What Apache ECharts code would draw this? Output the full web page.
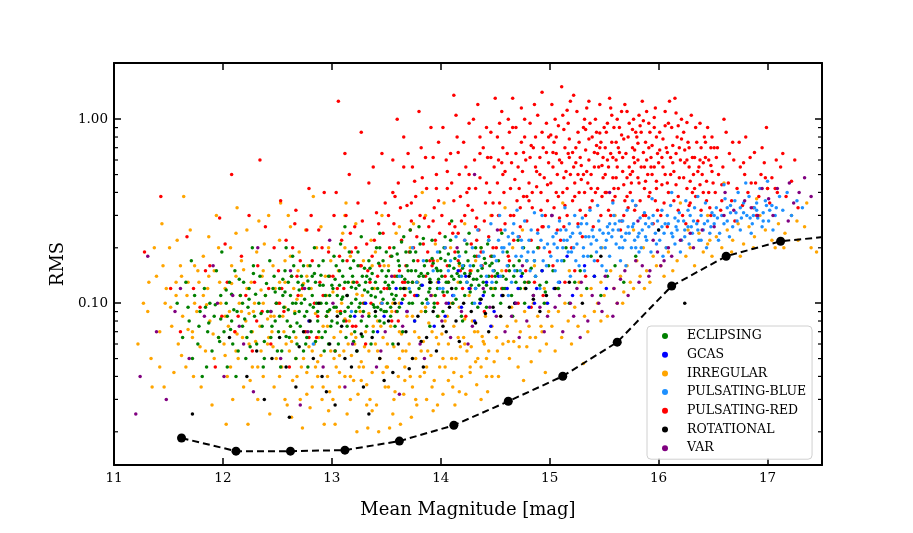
<!DOCTYPE html>
<html lang="en">
<head>
    <meta charset="UTF-8">
    <title>RMS vs Mean Magnitude</title>
    <script src="https://cdn.jsdelivr.net/npm/echarts@6/dist/echarts.min.js"></script>
</head>
<style>
    html, body {
        height: 100%;
        margin: 0;
        background: #fff;
    }
</style>
<body>
<div id="main" style="width: 913px;height:533px"></div>
<script type="text/javascript">
    // class names as in the legend
    var classNames = ['ECLIPSING', 'GCAS', 'IRREGULAR', 'PULSATING-BLUE', 'PULSATING-RED', 'ROTATIONAL', 'VAR'];
    var classColors = ['#008000', '#0000ff', '#ffa500', '#1e90ff', '#ff0000', '#000000', '#800080'];

    // [mean magnitude, rms]
    var eclipsing = [
        [11.58,0.1],[11.63,0.065],[11.66,0.13],[11.69,0.08],[11.72,0.05],[11.74,0.11],[11.77,0.06],[11.79,0.09],[11.81,0.04],[11.83,0.12],
        [11.86,0.07],[11.88,0.1],[11.9,0.055],[11.92,0.085],[11.94,0.15],[11.96,0.065],[11.98,0.11],[11.71,0.17],[11.85,0.045],[11.99,0.19],
        [12.01,0.07],[12.03,0.1],[12.04,0.045],[12.06,0.13],[12.08,0.08],[12.09,0.06],[12.11,0.15],[12.13,0.09],[12.14,0.055],[12.16,0.11],
        [12.18,0.075],[12.19,0.13],[12.21,0.05],[12.23,0.095],[12.24,0.12],[12.26,0.07],[12.28,0.16],[12.29,0.085],[12.31,0.06],[12.33,0.1],
        [12.34,0.14],[12.36,0.075],[12.38,0.05],[12.39,0.11],[12.41,0.09],[12.43,0.17],[12.44,0.065],[12.46,0.12],[12.48,0.08],[12.49,0.1],
        [12.12,0.04],[12.27,0.2],[12.37,0.045],[12.22,0.065],[12.47,0.14],
        [12.51,0.07],[12.52,0.12],[12.54,0.055],[12.56,0.095],[12.57,0.15],[12.59,0.08],[12.61,0.065],[12.62,0.11],[12.64,0.18],[12.66,0.088],
        [12.67,0.05],[12.69,0.13],[12.71,0.075],[12.72,0.1],[12.74,0.16],[12.76,0.06],[12.77,0.09],[12.79,0.12],[12.81,0.07],[12.82,0.14],
        [12.84,0.2],[12.86,0.1],[12.87,0.08],[12.89,0.125],[12.91,0.065],[12.92,0.17],[12.94,0.11],[12.96,0.09],[12.97,0.14],[12.99,0.075],
        [12.53,0.045],[12.58,0.2],[12.63,0.14],[12.68,0.06],[12.73,0.125],[12.78,0.045],[12.83,0.095],[12.88,0.16],[12.93,0.055],[12.98,0.11],
        [12.55,0.11],[12.65,0.07],[12.75,0.105],[12.85,0.13],[12.95,0.085],
        [13.01,0.12],[13.02,0.18],[13.04,0.095],[13.06,0.06],[13.07,0.15],[13.09,0.105],[13.11,0.08],[13.12,0.13],[13.14,0.11],[13.16,0.19],
        [13.17,0.085],[13.19,0.14],[13.21,0.07],[13.22,0.12],[13.24,0.16],[13.26,0.1],[13.27,0.23],[13.29,0.09],[13.31,0.13],[13.32,0.075],
        [13.34,0.17],[13.36,0.11],[13.37,0.145],[13.39,0.095],[13.41,0.2],[13.42,0.12],[13.44,0.08],[13.46,0.15],[13.47,0.105],[13.49,0.13],
        [13.03,0.055],[13.08,0.21],[13.13,0.065],[13.18,0.1],[13.23,0.055],[13.28,0.14],[13.33,0.115],[13.38,0.07],[13.43,0.165],[13.48,0.09],
        [13.05,0.11],[13.1,0.14],[13.15,0.095],[13.2,0.17],[13.25,0.125],[13.3,0.1],[13.35,0.135],[13.4,0.085],[13.45,0.115],[13.5,0.19],
        [13.12,0.26],[13.36,0.06],[13.22,0.09],[13.44,0.24],[13.03,0.135],
        [13.51,0.1],[13.52,0.15],[13.54,0.085],[13.56,0.13],[13.57,0.2],[13.59,0.11],[13.61,0.17],[13.62,0.095],[13.64,0.14],[13.66,0.23],
        [13.67,0.12],[13.69,0.16],[13.71,0.1],[13.72,0.19],[13.74,0.13],[13.76,0.08],[13.77,0.15],[13.79,0.11],[13.81,0.21],[13.82,0.125],
        [13.84,0.14],[13.86,0.09],[13.87,0.17],[13.89,0.115],[13.91,0.13],[13.92,0.22],[13.94,0.1],[13.96,0.155],[13.97,0.12],[13.99,0.19],
        [13.53,0.12],[13.58,0.075],[13.63,0.12],[13.68,0.19],[13.73,0.15],[13.78,0.13],[13.83,0.1],[13.88,0.145],[13.93,0.165],[13.98,0.135],
        [13.55,0.18],[13.6,0.14],[13.65,0.105],[13.7,0.13],[13.75,0.17],[13.8,0.12],[13.85,0.16],[13.9,0.135],[13.95,0.11],[14.0,0.15],
        [13.65,0.07],[13.9,0.075],[13.8,0.26],[13.72,0.25],[13.97,0.085],
        [14.01,0.14],[14.02,0.09],[14.04,0.17],[14.06,0.115],[14.07,0.13],[14.09,0.22],[14.11,0.1],[14.12,0.155],[14.14,0.12],[14.16,0.19],
        [14.17,0.14],[14.19,0.085],[14.21,0.16],[14.22,0.11],[14.24,0.13],[14.26,0.24],[14.27,0.145],[14.29,0.1],[14.31,0.18],[14.32,0.12],
        [14.34,0.15],[14.36,0.105],[14.37,0.2],[14.39,0.13],[14.41,0.165],[14.42,0.095],[14.44,0.14],[14.46,0.12],[14.47,0.18],[14.49,0.15],
        [14.03,0.2],[14.08,0.16],[14.13,0.175],[14.18,0.13],[14.23,0.19],[14.28,0.125],[14.33,0.135],[14.38,0.155],[14.43,0.21],[14.48,0.11],
        [14.05,0.13],[14.15,0.145],[14.25,0.17],[14.35,0.125],[14.45,0.16],[14.1,0.28],[14.2,0.08],[14.3,0.16],[14.4,0.115],[14.5,0.14],
        [14.51,0.13],[14.53,0.17],[14.55,0.1],[14.57,0.14],[14.59,0.12],[14.61,0.19],[14.63,0.15],[14.65,0.11],[14.67,0.16],[14.69,0.13],
        [14.71,0.22],[14.73,0.12],[14.75,0.145],[14.77,0.1],[14.79,0.17],[14.81,0.13],[14.83,0.155],[14.85,0.11],[14.87,0.14],[14.89,0.2],
        [14.91,0.125],[14.93,0.15],[14.95,0.1],[14.97,0.13],[14.99,0.16],[14.56,0.24],[14.66,0.085],[14.76,0.2],[14.86,0.17],[14.96,0.115],
        [15.03,0.15],[15.08,0.12],[15.13,0.17],[15.18,0.1],[15.23,0.13],[15.28,0.15],[15.34,0.12],[15.41,0.14],[15.47,0.11],[15.53,0.14],
        [15.6,0.16],[15.68,0.13],[15.79,0.18],[15.15,0.2],[15.38,0.18],
        [12.52,0.085],[12.57,0.115],[12.62,0.075],[12.67,0.1],[12.72,0.14],[12.77,0.065],[12.82,0.11],[12.87,0.09],[12.92,0.125],[12.97,0.06],
        [13.02,0.095],[13.07,0.125],[13.12,0.09],[13.17,0.155],[13.22,0.105],[13.27,0.08],[13.32,0.14],[13.37,0.12],[13.42,0.095],[13.47,0.17],
        [13.52,0.125],[13.57,0.105],[13.62,0.16],[13.67,0.135],[13.72,0.115],[13.77,0.19],[13.82,0.145],[13.87,0.105],[13.92,0.175],[13.97,0.15],
        [14.02,0.115],[14.07,0.185],[14.12,0.135],[14.17,0.165],[14.22,0.145],[14.27,0.115],[14.32,0.2],[14.37,0.14],[14.42,0.125],[14.47,0.165],
        [14.52,0.145],[14.57,0.12],[14.62,0.16],[14.67,0.14],[14.72,0.17],[14.77,0.13],[12.6,0.13],[12.7,0.09],[12.8,0.16],[12.9,0.1],
        [13.0,0.08],[13.1,0.17],[13.2,0.13],[13.3,0.155],[13.4,0.13],[13.5,0.09],[13.6,0.185],[13.7,0.15],[13.8,0.14],[13.9,0.12],
        [14.0,0.175],[14.1,0.14],[14.2,0.155],[14.3,0.135],[14.4,0.175],[14.5,0.12],[14.6,0.135],[14.7,0.15],[13.44,0.2],[13.64,0.215],
        [13.84,0.225],[14.04,0.23],[14.24,0.21],[14.44,0.22],[13.24,0.19],[13.04,0.16],[12.84,0.145],[12.64,0.1],[12.44,0.09],[12.24,0.105],
        [12.04,0.085],[11.84,0.095],[13.34,0.085],[13.54,0.095],[13.74,0.1],[13.94,0.095],[14.14,0.105],[14.34,0.095],[12.94,0.07],[13.14,0.075],
        [12.74,0.055],[13.56,0.06],
        [11.87,0.078],[11.93,0.098],[11.97,0.062],[12.03,0.118],[12.07,0.072],[12.1,0.092],[12.15,0.135],[12.2,0.082],[12.25,0.058],[12.3,0.112],
        [12.35,0.088],[12.4,0.128],[12.45,0.075],[12.5,0.055],[12.55,0.135],[12.6,0.092],[12.65,0.16],[12.7,0.118],[12.75,0.085],[12.8,0.098],
        [12.85,0.062],[12.9,0.142],[12.95,0.1],[13.0,0.125],[13.05,0.078],[13.1,0.108],[13.15,0.13],[13.2,0.062],[13.25,0.095],[13.3,0.118],
        [13.35,0.155],[13.4,0.108],[13.45,0.092],[13.5,0.14],[13.55,0.112],[13.6,0.09],[12.58,0.066],[12.68,0.078],[12.78,0.132],[12.88,0.07],
        [12.98,0.092],[13.08,0.088],[13.18,0.122],[13.28,0.066],[13.38,0.098],[13.48,0.078],[12.48,0.115],[12.38,0.062],[12.28,0.145],[12.18,0.1],
        [12.08,0.112],[11.98,0.082],[11.78,0.075],[11.68,0.095]
    ];
    var gcas = [
        [13.31,0.1],[13.48,0.085],[13.59,0.12],[13.69,0.09],[13.78,0.11],[13.88,0.1],[13.98,0.13],[14.04,0.085],[14.11,0.11],[14.19,0.095],
        [14.26,0.12],[14.31,0.08],[14.36,0.1],[14.42,0.13],[14.49,0.09],[14.56,0.11],[14.61,0.12],[14.68,0.1],[14.74,0.14],[14.81,0.095],
        [14.88,0.12],[14.98,0.1],[15.09,0.13],[15.21,0.11],[13.42,0.07],[13.94,0.075],[12.79,0.08],[14.16,0.15],[15.32,0.16],[15.52,0.12],
        [13.64,0.1],[13.83,0.125],[14.07,0.1],[14.23,0.14],[14.39,0.11],[14.53,0.14],[14.71,0.12],[14.93,0.15],[15.04,0.12],[15.16,0.18],
        [13.21,0.085],[13.76,0.08],[14.46,0.075],[14.86,0.1],[15.41,0.14]
    ];
    var irregular = [
        [11.22,0.06],[11.27,0.1],[11.31,0.09],[11.34,0.05],[11.37,0.2],[11.39,0.14],[11.42,0.07],[11.44,0.27],[11.46,0.035],[11.48,0.12],
        [11.51,0.2],[11.53,0.075],[11.55,0.042],[11.57,0.11],[11.59,0.06],[11.61,0.16],[11.63,0.085],[11.64,0.38],[11.66,0.045],[11.68,0.13],
        [11.7,0.25],[11.72,0.07],[11.74,0.1],[11.76,0.09],[11.78,0.13],[11.8,0.035],[11.82,0.18],[11.84,0.055],[11.86,0.12],[11.88,0.08],
        [11.9,0.028],[11.92,0.15],[11.94,0.3],[11.96,0.065],[11.98,0.1],[11.45,0.16],[11.58,0.22],[11.73,0.04],[11.87,0.23],[11.35,0.035],
        [12.01,0.06],[12.02,0.12],[12.04,0.04],[12.06,0.09],[12.07,0.2],[12.09,0.03],[12.11,0.07],[12.12,0.14],[12.14,0.05],[12.16,0.11],
        [12.17,0.17],[12.19,0.035],[12.21,0.08],[12.22,0.25],[12.24,0.06],[12.26,0.13],[12.27,0.045],[12.29,0.1],[12.31,0.19],[12.32,0.03],
        [12.34,0.075],[12.36,0.14],[12.37,0.04],[12.39,0.11],[12.41,0.06],[12.42,0.3],[12.44,0.085],[12.46,0.16],[12.47,0.035],[12.49,0.05],
        [12.03,0.022],[12.13,0.33],[12.23,0.022],[12.33,0.28],[12.43,0.025],[12.08,0.16],[12.18,0.065],[12.28,0.09],[12.38,0.21],[12.48,0.12],
        [12.05,0.075],[12.15,0.1],[12.25,0.038],[12.35,0.055],[12.45,0.07],
        [12.51,0.1],[12.52,0.22],[12.54,0.045],[12.56,0.07],[12.57,0.13],[12.59,0.028],[12.61,0.055],[12.62,0.18],[12.64,0.038],[12.66,0.09],
        [12.67,0.065],[12.69,0.15],[12.71,0.03],[12.72,0.11],[12.74,0.05],[12.76,0.25],[12.77,0.042],[12.79,0.08],[12.81,0.12],[12.82,0.035],
        [12.84,0.06],[12.86,0.2],[12.87,0.048],[12.89,0.1],[12.91,0.03],[12.92,0.075],[12.94,0.14],[12.96,0.04],[12.97,0.09],[12.99,0.055],
        [12.53,0.35],[12.63,0.024],[12.73,0.021],[12.83,0.38],[12.93,0.022],[12.58,0.06],[12.68,0.04],[12.78,0.16],[12.88,0.065],[12.98,0.033],
        [12.55,0.085],[12.65,0.12],[12.75,0.07],[12.85,0.045],[12.95,0.11],[12.6,0.3],[12.7,0.19],[12.8,0.027],[12.9,0.26],[12.99,0.17],
        [13.01,0.03],[13.02,0.065],[13.04,0.045],[13.06,0.15],[13.07,0.035],[13.09,0.1],[13.11,0.055],[13.12,0.2],[13.14,0.025],[13.16,0.08],
        [13.17,0.04],[13.19,0.13],[13.21,0.06],[13.22,0.27],[13.24,0.032],[13.26,0.09],[13.27,0.048],[13.29,0.17],[13.31,0.07],[13.32,0.036],
        [13.34,0.055],[13.36,0.22],[13.37,0.042],[13.39,0.12],[13.41,0.028],[13.42,0.08],[13.44,0.05],[13.46,0.3],[13.47,0.065],[13.49,0.035],
        [13.03,0.022],[13.13,0.35],[13.23,0.02],[13.33,0.021],[13.43,0.02],[13.08,0.07],[13.18,0.052],[13.28,0.11],[13.38,0.075],[13.48,0.16],
        [13.05,0.09],[13.15,0.06],[13.25,0.045],[13.35,0.03],[13.45,0.1],[13.1,0.24],[13.2,0.038],[13.3,0.058],[13.4,0.19],[13.5,0.045],
        [13.51,0.045],[13.52,0.16],[13.54,0.075],[13.56,0.025],[13.57,0.058],[13.59,0.24],[13.61,0.04],[13.62,0.1],[13.64,0.068],[13.66,0.032],
        [13.67,0.045],[13.69,0.085],[13.71,0.06],[13.72,0.2],[13.74,0.035],[13.76,0.07],[13.77,0.05],[13.79,0.13],[13.81,0.04],[13.82,0.09],
        [13.84,0.062],[13.86,0.3],[13.87,0.03],[13.89,0.078],[13.91,0.052],[13.92,0.11],[13.94,0.038],[13.96,0.065],[13.97,0.17],[13.99,0.045],
        [13.53,0.021],[13.63,0.022],[13.73,0.024],[13.83,0.4],[13.93,0.026],[13.58,0.033],[13.68,0.12],[13.78,0.028],[13.88,0.055],[13.98,0.085],
        [13.55,0.09],[13.65,0.055],[13.75,0.27],[13.85,0.042],[13.95,0.21],
        [14.01,0.068],[14.02,0.032],[14.04,0.045],[14.06,0.085],[14.07,0.06],[14.09,0.2],[14.11,0.035],[14.12,0.075],[14.14,0.05],[14.16,0.13],
        [14.17,0.095],[14.19,0.04],[14.21,0.065],[14.22,0.27],[14.24,0.055],[14.26,0.11],[14.27,0.045],[14.29,0.08],[14.31,0.07],[14.32,0.17],
        [14.34,0.05],[14.36,0.1],[14.37,0.03],[14.39,0.062],[14.41,0.085],[14.42,0.04],[14.44,0.055],[14.46,0.3],[14.47,0.075],[14.49,0.048],
        [14.03,0.35],[14.13,0.028],[14.23,0.032],[14.33,0.036],[14.43,0.033],[14.08,0.1],[14.18,0.058],[14.28,0.15],[14.38,0.066],[14.48,0.12],
        [14.51,0.065],[14.53,0.04],[14.55,0.085],[14.57,0.06],[14.59,0.33],[14.61,0.075],[14.63,0.05],[14.65,0.095],[14.67,0.062],[14.69,0.08],
        [14.71,0.045],[14.73,0.07],[14.75,0.25],[14.77,0.09],[14.79,0.058],[14.81,0.075],[14.83,0.048],[14.85,0.1],[14.87,0.065],[14.89,0.085],
        [14.91,0.055],[14.93,0.07],[14.95,0.12],[14.97,0.06],[14.99,0.09],[14.56,0.15],[14.66,0.2],[14.76,0.038],[14.86,0.16],[14.96,0.042],
        [15.02,0.075],[15.05,0.055],[15.08,0.09],[15.11,0.065],[15.14,0.1],[15.17,0.08],[15.2,0.06],[15.23,0.095],[15.26,0.075],[15.29,0.11],
        [15.32,0.085],[15.35,0.07],[15.38,0.12],[15.41,0.09],[15.44,0.1],[15.47,0.13],[15.5,0.11],[15.53,0.085],[15.56,0.15],[15.59,0.12],
        [15.62,0.1],[15.65,0.14],[15.68,0.115],[15.71,0.16],[15.74,0.13],[15.77,0.12],[15.8,0.17],[15.83,0.14],[15.86,0.2],[15.89,0.15],
        [15.92,0.13],[15.95,0.18],[15.98,0.16],[15.18,0.15],[15.48,0.2],[15.77,0.25],[15.31,0.047],[15.6,0.3],[15.12,0.35],
        [16.02,0.16],[16.05,0.14],[16.09,0.19],[16.13,0.15],[16.17,0.17],[16.21,0.22],[16.25,0.18],[16.29,0.2],[16.33,0.16],[16.37,0.24],
        [16.41,0.19],[16.45,0.21],[16.49,0.18],[16.53,0.23],[16.58,0.2],[16.63,0.25],[16.68,0.22],[16.73,0.27],[16.78,0.21],[16.83,0.26],
        [16.88,0.23],[16.93,0.3],[16.98,0.25],[17.04,0.22],[17.1,0.27],[17.16,0.24],[17.22,0.3],[17.28,0.22],[17.34,0.26],[17.4,0.2],
        [17.45,0.19],[17.36,0.35],[16.6,0.45],[16.2,0.35],[17.0,0.42],[16.75,0.18],[17.15,0.2],[16.45,0.3],[16.9,0.37],
        [11.52,0.095],[11.62,0.14],[11.72,0.065],[11.82,0.11],[11.92,0.05],[12.02,0.085],[12.12,0.055],[12.22,0.12],[12.32,0.045],[12.42,0.065],
        [12.52,0.04],[12.62,0.075],[12.72,0.045],[12.82,0.055],[12.92,0.035],[13.02,0.05],[13.12,0.04],[13.22,0.065],[13.32,0.028],[13.42,0.055],
        [13.52,0.035],[13.62,0.05],[13.72,0.04],[13.82,0.055],[13.92,0.035],[14.02,0.05],[14.12,0.042],[14.22,0.06],[14.32,0.048],[14.42,0.05],
        [14.52,0.055],[14.62,0.062],[14.72,0.058],[14.82,0.065],[14.92,0.075],[12.57,0.03],[12.67,0.05],[12.77,0.032],[12.87,0.04],[12.97,0.026],
        [13.07,0.042],[13.17,0.03],[13.27,0.038],[13.37,0.026],[13.47,0.042],[13.57,0.03],[13.67,0.038],[13.77,0.03],[13.87,0.045],[13.97,0.028],
        [14.07,0.038],[14.17,0.033],[14.27,0.042],[14.37,0.045],[14.47,0.04],[12.07,0.045],[12.17,0.09],[12.27,0.07],[12.37,0.1],[12.47,0.085],
        [11.47,0.1],[11.57,0.13],[11.67,0.11],[11.77,0.15],[11.87,0.14],[11.97,0.13],[12.37,0.15],[12.57,0.17],[12.77,0.14],[12.97,0.2],
        [13.17,0.18],[13.37,0.16],[13.57,0.14],[13.77,0.11],[13.97,0.13],[14.17,0.16],[14.37,0.2],[14.57,0.11],[14.77,0.12],[14.97,0.1],
        [15.07,0.12],[15.27,0.13],[15.47,0.08],[15.67,0.1],[15.87,0.12],[16.07,0.2],[16.27,0.25],[16.47,0.22],[16.67,0.19],[16.87,0.2],
        [17.07,0.2],[17.27,0.28],[11.42,0.045],[11.32,0.13],[12.12,0.24],[12.62,0.26],[13.62,0.26],[13.12,0.3],
        [11.62,0.052],[11.68,0.072],[11.74,0.16],[11.79,0.058],[11.85,0.098],[11.91,0.068],[11.96,0.2],[12.02,0.052],[12.08,0.128],[12.13,0.068],
        [12.19,0.152],[12.24,0.088],[12.3,0.062],[12.35,0.118],[12.41,0.082],[12.46,0.058],[12.52,0.13],[12.57,0.095],[12.63,0.062],[12.68,0.105],
        [12.74,0.128],[12.79,0.058],[12.85,0.088],[12.9,0.052],[12.96,0.075],[13.01,0.115],[13.07,0.052],[13.12,0.082],[13.18,0.068],[13.23,0.112],
        [13.29,0.045],[13.34,0.088],[13.4,0.06],[13.45,0.075],[13.51,0.06],[13.56,0.1],[13.62,0.07],[13.68,0.055],[13.74,0.085],[13.8,0.065],
        [13.86,0.095],[13.92,0.07],[13.98,0.06],[14.04,0.08],[14.1,0.05],[14.16,0.065],[14.22,0.082],[14.28,0.058],[14.34,0.07],[14.4,0.06]
    ];
    var pulsatingBlue = [
        [12.83,0.06],[13.18,0.09],[13.46,0.1],[13.62,0.14],[13.71,0.12],[13.78,0.13],[13.84,0.17],[13.88,0.1],[13.93,0.15],[13.97,0.19],
        [13.74,0.2],[13.99,0.12],
        [14.02,0.12],[14.04,0.2],[14.07,0.15],[14.09,0.17],[14.12,0.11],[14.14,0.23],[14.17,0.18],[14.19,0.14],[14.22,0.22],[14.24,0.13],
        [14.27,0.16],[14.29,0.2],[14.32,0.12],[14.34,0.25],[14.37,0.16],[14.39,0.19],[14.42,0.14],[14.44,0.22],[14.47,0.13],[14.49,0.18],
        [14.31,0.1],[14.46,0.27],
        [14.51,0.17],[14.53,0.22],[14.55,0.14],[14.57,0.19],[14.59,0.25],[14.61,0.16],[14.63,0.21],[14.65,0.13],[14.67,0.27],[14.69,0.18],
        [14.71,0.23],[14.73,0.15],[14.75,0.2],[14.77,0.28],[14.79,0.17],[14.81,0.22],[14.83,0.25],[14.85,0.19],[14.87,0.14],[14.89,0.24],
        [14.91,0.12],[14.93,0.3],[14.95,0.2],[14.97,0.16],[14.99,0.26],[14.54,0.3],[14.62,0.11],[14.7,0.32],[14.78,0.12],[14.86,0.31],
        [14.94,0.17],[14.58,0.2],[14.66,0.24],[14.74,0.18],[14.82,0.15],
        [15.01,0.18],[15.03,0.23],[15.05,0.15],[15.07,0.2],[15.09,0.28],[15.11,0.17],[15.13,0.22],[15.15,0.25],[15.17,0.19],[15.19,0.14],
        [15.21,0.24],[15.23,0.3],[15.25,0.21],[15.27,0.16],[15.29,0.27],[15.31,0.2],[15.33,0.23],[15.35,0.18],[15.37,0.32],[15.39,0.25],
        [15.41,0.17],[15.43,0.22],[15.45,0.28],[15.47,0.2],[15.49,0.24],[15.02,0.3],[15.08,0.13],[15.14,0.33],[15.2,0.19],[15.26,0.26],
        [15.32,0.15],[15.38,0.21],[15.44,0.34],[15.48,0.16],[15.06,0.24],[15.12,0.2],[15.18,0.27],[15.24,0.17],[15.3,0.29],[15.36,0.23],
        [15.51,0.2],[15.53,0.26],[15.55,0.18],[15.57,0.23],[15.59,0.3],[15.61,0.21],[15.63,0.25],[15.65,0.17],[15.67,0.28],[15.69,0.22],
        [15.71,0.32],[15.73,0.24],[15.75,0.2],[15.77,0.27],[15.79,0.34],[15.81,0.23],[15.83,0.29],[15.85,0.25],[15.87,0.31],[15.89,0.22],
        [15.91,0.26],[15.93,0.19],[15.95,0.3],[15.97,0.24],[15.99,0.28],[15.52,0.15],[15.58,0.35],[15.64,0.2],[15.7,0.16],[15.76,0.36],
        [15.82,0.19],[15.88,0.27],[15.94,0.37],[15.98,0.21],[15.54,0.24],[15.6,0.27],[15.66,0.23],[15.72,0.26],[15.78,0.22],[15.84,0.2],
        [16.01,0.22],[16.03,0.32],[16.05,0.24],[16.07,0.2],[16.09,0.27],[16.11,0.34],[16.13,0.23],[16.15,0.29],[16.17,0.25],[16.19,0.31],
        [16.21,0.22],[16.23,0.28],[16.25,0.36],[16.27,0.26],[16.29,0.3],[16.31,0.24],[16.33,0.33],[16.35,0.27],[16.37,0.22],[16.39,0.3],
        [16.41,0.25],[16.43,0.35],[16.45,0.28],[16.47,0.24],[16.49,0.31],[16.04,0.18],[16.12,0.4],[16.2,0.19],[16.28,0.21],[16.36,0.38],
        [16.44,0.2],[16.08,0.3],[16.16,0.26],[16.24,0.25],[16.32,0.28],
        [16.51,0.27],[16.53,0.33],[16.56,0.24],[16.58,0.3],[16.61,0.37],[16.63,0.28],[16.66,0.34],[16.68,0.26],[16.71,0.31],[16.73,0.4],
        [16.76,0.29],[16.78,0.35],[16.81,0.3],[16.83,0.38],[16.86,0.27],[16.88,0.33],[16.91,0.29],[16.93,0.42],[16.96,0.31],[16.98,0.36],
        [17.01,0.28],[17.04,0.34],[17.07,0.3],[17.11,0.38],[17.14,0.32],[17.18,0.4],[17.22,0.3],[17.27,0.36],[17.32,0.33],[16.55,0.22],
        [16.65,0.23],[16.75,0.25],[16.85,0.24],[16.95,0.26],[17.05,0.25],[16.6,0.44],[16.8,0.45],[17.0,0.46],[16.7,0.36],[16.9,0.35],
        [15.04,0.21],[15.1,0.25],[15.16,0.22],[15.22,0.2],[15.28,0.24],[15.34,0.27],[15.4,0.23],[15.46,0.25],[15.52,0.22],[15.58,0.25],
        [15.64,0.28],[15.7,0.24],[15.76,0.26],[15.82,0.24],[15.88,0.23],[15.94,0.27],[16.0,0.25],[16.06,0.27],[16.12,0.24],[16.18,0.28],
        [16.24,0.23],[16.3,0.26],[16.36,0.25],[16.42,0.27],[16.48,0.26],[16.54,0.29],[16.6,0.27],[16.66,0.31],[16.72,0.28],[16.78,0.31],
        [16.84,0.29],[16.9,0.32],[16.96,0.28],[17.02,0.32],[17.08,0.33],[15.07,0.17],[15.19,0.23],[15.31,0.18],[15.43,0.19],[15.55,0.27],
        [15.67,0.2],[15.79,0.2],[15.91,0.29],[16.03,0.26],[16.15,0.21],[16.27,0.32],[16.39,0.22],[16.51,0.3],[16.63,0.33],[16.75,0.33],
        [16.87,0.3],[16.99,0.34],[14.56,0.2],[14.68,0.15],[14.8,0.19],[14.92,0.22],[14.62,0.23],[14.74,0.22],[14.86,0.17],[14.98,0.21],
        [14.2,0.16],[14.35,0.18],[14.48,0.15]
    ];
    var pulsatingRed = [
        [11.28,0.19],[11.43,0.38],[11.52,0.12],[11.61,0.07],[11.67,0.23],[11.73,0.12],[11.79,0.095],[11.84,0.15],[11.88,0.16],[11.93,0.045],
        [11.97,0.29],[11.99,0.085],
        [12.02,0.21],[12.04,0.13],[12.08,0.5],[12.11,0.07],[12.14,0.085],[12.17,0.18],[12.21,0.11],[12.24,0.3],[12.27,0.055],[12.29,0.13],
        [12.32,0.16],[12.34,0.6],[12.36,0.09],[12.39,0.26],[12.42,0.12],[12.44,0.06],[12.47,0.2],[12.49,0.1],
        [12.51,0.15],[12.53,0.36],[12.56,0.09],[12.58,0.22],[12.61,0.045],[12.63,0.14],[12.64,0.2],[12.67,0.32],[12.69,0.11],[12.71,0.17],
        [12.73,0.12],[12.76,0.07],[12.77,0.25],[12.79,0.42],[12.82,0.17],[12.84,0.1],[12.86,0.065],[12.88,0.25],[12.89,0.13],[12.92,0.11],
        [12.93,0.4],[12.95,0.085],[12.97,0.19],[12.98,0.14],[12.66,0.27],[12.81,0.3],[12.54,0.12],[12.91,0.2],
        [13.01,0.14],[13.03,0.055],[13.04,0.4],[13.06,1.25],[13.08,0.09],[13.09,0.22],[13.11,0.12],[13.13,0.3],[13.14,0.17],[13.16,0.5],
        [13.18,0.19],[13.19,0.075],[13.21,0.26],[13.23,0.13],[13.24,0.35],[13.26,0.16],[13.28,0.28],[13.29,0.1],[13.31,0.06],[13.32,0.21],
        [13.34,0.45],[13.36,0.1],[13.37,0.18],[13.39,0.22],[13.41,0.31],[13.42,0.14],[13.44,0.16],[13.46,0.65],[13.47,0.24],[13.49,0.35],
        [13.12,0.65],[13.27,0.85],[13.38,0.55],[13.22,0.2],[13.33,0.15],[13.43,0.27],[13.07,0.18],[13.17,0.24],[13.48,0.12],[13.02,0.3],
        [13.51,0.12],[13.52,0.3],[13.54,0.18],[13.56,0.6],[13.57,0.27],[13.59,0.09],[13.61,0.45],[13.62,0.15],[13.64,0.22],[13.66,0.8],
        [13.67,0.13],[13.69,0.34],[13.71,0.19],[13.72,0.25],[13.74,0.55],[13.76,0.11],[13.77,0.38],[13.79,0.17],[13.81,0.3],[13.82,0.7],
        [13.84,0.21],[13.86,0.14],[13.87,0.42],[13.89,0.26],[13.91,0.9],[13.92,0.16],[13.94,0.33],[13.96,0.5],[13.97,0.1],[13.99,0.24],
        [13.53,0.2],[13.58,0.38],[13.63,0.33],[13.68,0.16],[13.73,0.28],[13.78,0.23],[13.83,0.48],[13.88,0.19],[13.93,0.62],[13.98,0.36],
        [13.55,0.08],[13.65,0.13],[13.75,0.2],[13.85,0.29],[13.95,0.22],[13.6,1.0],[13.8,1.1],[13.7,0.65],[13.9,0.17],[13.98,0.75],
        [14.01,0.3],[14.02,0.9],[14.04,0.2],[14.06,0.42],[14.07,0.13],[14.09,0.65],[14.11,0.24],[14.12,0.36],[14.14,1.05],[14.16,0.17],
        [14.17,0.5],[14.19,0.28],[14.21,0.75],[14.22,0.22],[14.24,0.4],[14.26,0.95],[14.27,0.15],[14.29,0.32],[14.31,0.6],[14.32,0.26],
        [14.34,1.2],[14.36,0.48],[14.37,0.19],[14.39,0.7],[14.41,0.35],[14.42,0.45],[14.44,0.23],[14.46,0.85],[14.47,0.3],[14.49,0.55],
        [14.03,0.11],[14.08,0.27],[14.13,0.19],[14.18,0.38],[14.23,0.55],[14.28,0.21],[14.33,0.29],[14.38,0.16],[14.43,0.62],[14.48,0.2],
        [14.05,0.6],[14.15,0.8],[14.25,0.34],[14.35,0.25],[14.45,0.4],[14.1,0.45],[14.2,0.12],[14.3,1.0],[14.4,0.28],[14.5,1.3],
        [14.06,0.16],[14.16,0.24],[14.26,0.5],[14.36,0.65],[14.46,0.18],[14.12,1.35],[14.22,0.3],[14.32,0.42],[14.42,0.9],[14.48,0.35],
        [14.51,0.2],[14.52,0.8],[14.54,0.35],[14.56,1.1],[14.57,0.5],[14.59,0.27],[14.61,0.65],[14.62,0.18],[14.64,0.42],[14.66,1.3],
        [14.67,0.3],[14.69,0.9],[14.71,0.55],[14.72,0.23],[14.74,0.75],[14.76,0.38],[14.77,1.0],[14.79,0.28],[14.81,0.45],[14.82,0.62],
        [14.84,0.33],[14.86,1.2],[14.87,0.8],[14.89,0.25],[14.91,0.5],[14.92,0.4],[14.94,0.7],[14.96,0.3],[14.97,0.95],[14.99,0.58],
        [14.53,0.6],[14.58,0.4],[14.63,0.85],[14.68,0.47],[14.73,0.33],[14.78,0.6],[14.83,0.22],[14.88,0.43],[14.93,1.4],[14.98,0.36],
        [14.55,0.25],[14.65,0.58],[14.75,0.52],[14.85,0.7],[14.95,0.48],[14.6,0.15],[14.7,0.36],[14.8,0.13],[14.9,0.2],[15.0,0.19],
        [14.54,0.95],[14.64,0.3],[14.74,1.15],[14.84,0.4],[14.94,0.26],[14.57,0.7],[14.67,0.22],[14.77,0.8],[14.87,0.55],[14.97,0.66],
        [14.52,0.45],[14.62,1.0],[14.72,0.42],[14.82,0.95],[14.92,0.32],[14.59,0.52],[14.69,0.65],[14.79,0.38],[14.89,1.05],[14.99,0.8],
        [15.01,0.45],[15.02,1.2],[15.04,0.33],[15.06,0.8],[15.07,0.25],[15.09,0.6],[15.11,1.5],[15.12,0.4],[15.14,0.7],[15.16,0.3],
        [15.17,0.95],[15.19,0.5],[15.21,0.36],[15.22,1.35],[15.24,0.58],[15.26,0.27],[15.27,0.75],[15.29,0.47],[15.31,0.9],[15.32,0.4],
        [15.34,1.15],[15.36,0.6],[15.37,0.33],[15.39,0.8],[15.41,0.55],[15.42,1.0],[15.44,0.42],[15.46,0.7],[15.47,0.3],[15.49,0.62],
        [15.03,0.55],[15.08,0.38],[15.13,0.88],[15.18,0.62],[15.23,0.45],[15.28,0.32],[15.33,0.68],[15.38,0.5],[15.43,0.85],[15.48,0.38],
        [15.05,1.0],[15.15,0.52],[15.25,1.1],[15.35,0.45],[15.45,0.55],[15.1,0.22],[15.2,0.2],[15.3,0.23],[15.4,0.26],[15.5,0.9],
        [15.06,0.65],[15.16,0.42],[15.26,0.85],[15.36,0.78],[15.46,1.2],[15.09,0.29],[15.19,1.25],[15.29,0.56],[15.39,0.36],[15.49,0.48],
        [15.04,0.75],[15.14,0.34],[15.24,0.7],[15.34,0.52],[15.44,0.65],[15.12,1.05],[15.22,0.55],[15.32,1.0],[15.42,0.4],[15.02,0.3],
        [15.27,0.4],[15.37,0.95],[15.47,0.75],[15.17,0.65],[15.07,0.5],
        [15.51,0.5],[15.52,0.85],[15.54,0.32],[15.56,0.65],[15.57,1.05],[15.59,0.42],[15.61,0.75],[15.62,0.55],[15.64,0.9],[15.66,0.28],
        [15.67,0.62],[15.69,1.2],[15.71,0.38],[15.72,0.8],[15.74,0.5],[15.76,0.7],[15.77,1.0],[15.79,0.34],[15.81,0.6],[15.82,0.45],
        [15.84,0.85],[15.86,0.3],[15.87,0.55],[15.89,1.1],[15.91,0.7],[15.92,0.4],[15.94,0.5],[15.96,0.9],[15.97,0.36],[15.99,0.65],
        [15.53,0.6],[15.58,0.48],[15.63,0.7],[15.68,0.44],[15.73,0.95],[15.78,0.58],[15.83,0.36],[15.88,0.75],[15.93,0.62],[15.98,0.46],
        [15.55,1.3],[15.65,0.25],[15.75,0.45],[15.85,1.25],[15.95,0.27],[15.6,0.38],[15.7,0.65],[15.8,0.8],[15.9,0.5],[16.0,0.58],
        [15.52,0.4],[15.62,1.0],[15.72,0.33],[15.82,1.05],[15.92,0.85],[15.57,0.75],[15.67,0.52],[15.77,0.62],[15.87,0.42],[15.97,1.15],
        [15.54,0.55],[15.64,0.66],[15.74,0.4],[15.84,0.55],[15.94,0.72],[15.59,0.9],[15.69,0.36],[15.79,0.85],[15.89,0.6],[15.99,0.32],
        [15.51,0.7],[15.61,0.48],[15.71,1.1],[15.81,0.48],[15.91,0.95],[15.56,0.3],[15.66,0.82],[15.76,0.52],[15.86,0.66],[15.96,0.55],
        [16.01,0.85],[16.02,0.3],[16.04,0.55],[16.06,1.1],[16.07,0.7],[16.09,0.4],[16.11,0.5],[16.12,0.9],[16.14,0.36],[16.16,0.65],
        [16.17,0.8],[16.19,0.48],[16.21,1.0],[16.22,0.3],[16.24,0.58],[16.26,0.42],[16.27,0.75],[16.29,0.35],[16.31,0.62],[16.32,0.5],
        [16.34,0.9],[16.36,0.28],[16.37,0.55],[16.39,0.7],[16.41,0.4],[16.42,0.8],[16.44,0.46],[16.46,0.6],[16.47,0.33],[16.49,0.52],
        [16.03,0.62],[16.08,0.45],[16.13,0.72],[16.18,0.38],[16.23,0.85],[16.28,0.55],[16.33,0.42],[16.38,0.95],[16.43,0.62],[16.48,0.7],
        [16.05,0.35],[16.15,1.3],[16.25,0.27],[16.35,0.75],[16.45,0.9],[16.1,1.25],[16.2,0.6],[16.3,1.05],[16.4,0.5],[16.5,0.45],
        [16.04,0.78],[16.14,0.52],[16.24,0.68],[16.34,0.38],[16.44,0.36],[16.09,0.95],[16.19,0.7],[16.29,0.46],[16.39,0.32],[16.49,0.8],
        [16.06,0.5],[16.16,0.44],[16.26,0.6],[16.36,0.52],[16.46,0.4],
        [16.52,0.4],[16.54,0.7],[16.57,0.32],[16.59,0.55],[16.62,0.85],[16.64,0.45],[16.67,0.36],[16.69,0.6],[16.72,0.42],[16.74,0.75],
        [16.77,0.34],[16.79,0.5],[16.82,0.4],[16.84,0.62],[16.87,0.33],[16.89,0.45],[16.92,0.38],[16.94,0.5],[16.97,0.58],[16.99,0.9],
        [17.02,0.35],[17.04,0.48],[17.07,0.42],[17.09,0.4],[17.12,0.55],[17.17,0.38],[17.22,0.46],[17.28,0.33],[16.55,0.5],[16.6,1.0],
        [16.65,0.65],[16.7,0.28],[16.75,0.55],[16.8,0.8],[16.85,0.45],[16.9,0.3],[16.95,0.7],[17.0,0.42],[17.14,0.65],[17.25,0.6],
        [12.52,0.1],[12.68,0.14],[12.87,0.085],[13.05,0.12],[13.13,0.08],[13.27,0.16],[13.35,0.13],[13.46,0.1],[13.58,0.14],[13.67,0.11],
        [13.74,0.13],[13.86,0.09],[13.93,0.17],[14.04,0.14],[14.11,0.1],[14.18,0.15],[14.27,0.12],[14.33,0.18],[14.4,0.09],[14.47,0.14],
        [14.56,0.12],[14.63,0.17],[14.71,0.1],[14.78,0.15],[14.86,0.13],[14.94,0.11],[15.03,0.16],[15.14,0.13],[15.23,0.15],[15.33,0.14],
        [15.44,0.17],[13.22,0.075],[13.61,0.08],[14.23,0.085],[12.31,0.08],[12.79,0.065],[14.83,0.095],
        [14.83,0.72],[14.88,0.52],[14.93,0.85],[14.98,0.44],[15.03,0.66],[15.08,0.92],[15.13,0.48],[15.18,0.78],[15.23,0.38],[15.28,0.62],
        [15.33,0.88],[15.38,0.42],[15.43,0.72],[15.48,0.56],[15.53,0.95],[15.58,0.62],[15.63,0.42],[15.68,0.78],[15.73,0.55],[15.78,0.68],
        [15.83,0.92],[15.88,0.46],[15.93,0.55],[15.98,0.8],[16.03,0.44],[16.08,0.66],[16.13,0.58],[16.18,0.92],[16.23,0.48],[16.28,0.7],
        [16.33,0.62],[16.38,0.44],[16.43,0.75],[16.48,0.56],[16.53,0.62],[16.58,0.44],[14.81,0.36],[14.91,0.62],[15.01,0.82],[15.11,0.58],
        [15.21,0.66],[15.31,0.5],[15.41,0.66],[15.51,0.4],[15.61,0.6],[15.71,0.48],[15.81,0.74],[15.91,0.38],[16.01,0.68],[16.11,0.62],
        [16.21,0.78],[16.31,0.4],[16.41,0.58],[16.51,0.7],[15.16,1.12],[15.36,1.25],[15.56,1.15],[15.76,0.88],[15.96,1.02],[16.16,1.08],
        [15.46,0.84],[15.66,1.1],[15.86,0.98],[16.06,0.92],[16.26,0.96],[15.26,0.5],[15.06,0.4],[14.76,0.66],[14.66,0.9],[14.56,0.58],
        [14.46,0.62],[14.36,0.8],[14.26,0.42],[14.16,0.66],[14.06,0.52],[13.96,0.42],[13.86,0.62],[13.76,0.46],[13.66,0.55],[13.56,0.4],
        [15.58,0.36],[15.78,0.32],[15.98,0.42],[16.18,0.32],[16.38,0.6],[16.58,0.36],[16.78,0.58],[16.98,0.48],[17.08,0.6],[16.68,0.75],
        [16.88,0.66],[15.33,0.3],[15.13,0.26],[14.93,0.26],[14.73,0.26],[14.53,0.3],[14.33,0.22],[14.13,0.26],[13.93,0.28],[13.73,0.35],
        [15.68,0.3],[15.88,0.3],[16.08,0.26],[16.28,0.34],[16.48,0.3]
    ];
    var rotational = [
        [12.22,0.04],[12.31,0.055],[12.38,0.03],[12.52,0.065],[12.58,0.045],[12.67,0.035],[12.74,0.07],[12.83,0.05],[12.91,0.04],[12.98,0.06],
        [13.03,0.028],[13.09,0.075],[13.18,0.045],[13.23,0.055],[13.29,0.035],[13.37,0.065],[13.44,0.05],[13.52,0.08],[13.56,0.042],[13.61,0.06],
        [13.68,0.07],[13.74,0.05],[13.79,0.085],[13.87,0.065],[13.93,0.09],[14.02,0.075],[14.08,0.095],[14.14,0.08],[14.21,0.1],[14.28,0.09],
        [14.37,0.105],[14.48,0.095],[14.57,0.11],[14.68,0.1],[14.78,0.12],[14.97,0.11],[15.18,0.13],[15.47,0.18],[16.24,0.1],[16.0,0.25],
        [11.72,0.025],[12.06,0.065],[13.14,0.11],[13.66,0.12],[14.26,0.14],[12.61,0.024],[13.34,0.025],[12.88,0.1],[14.44,0.07],[13.84,0.045],
        [12.45,0.05],[12.7,0.058],[12.95,0.033],[13.12,0.05],[13.27,0.068],[13.48,0.038],[13.58,0.1],[13.71,0.044],[13.82,0.062],[13.96,0.055],
        [14.05,0.07],[14.17,0.062],[14.32,0.078],[14.41,0.088],[14.55,0.085],[14.63,0.095],[14.85,0.105],[14.91,0.09],[15.05,0.12],[15.3,0.1],
        [13.4,0.09],[13.05,0.085],[12.8,0.08],[14.1,0.12],[13.9,0.13]
    ];
    var variable = [
        [11.24,0.04],[11.31,0.18],[11.39,0.07],[11.48,0.03],[11.61,0.12],[11.69,0.05],[11.83,0.085],[11.91,0.16],[12.01,0.04],[12.09,0.11],
        [12.19,0.06],[12.28,0.033],[12.44,0.09],[12.53,0.05],[12.62,0.15],[12.71,0.028],[12.78,0.07],[12.92,0.045],[13.01,0.1],[13.12,0.035],
        [13.19,0.06],[13.28,0.085],[13.41,0.045],[13.49,0.07],[13.62,0.032],[13.69,0.09],[13.81,0.06],[13.91,0.11],[14.01,0.08],[14.09,0.065],
        [14.19,0.09],[14.29,0.075],[14.39,0.12],[14.51,0.085],[14.59,0.07],[14.69,0.1],[14.79,0.08],[14.91,0.095],[14.98,0.085],[15.09,0.11],
        [15.19,0.1],[15.29,0.13],[15.39,0.11],[15.51,0.14],[15.59,0.12],[15.69,0.15],[15.79,0.17],[15.91,0.14],[15.99,0.19],[16.09,0.2],
        [16.29,0.24],[16.51,0.26],[16.69,0.32],[16.79,0.36],[16.91,0.3],[17.01,0.37],[17.09,0.42],[17.19,0.28],[17.29,0.4],[17.34,0.48],
        [16.61,0.4],[17.24,0.35],[15.02,0.3],[14.52,0.25],[14.31,0.5],[15.81,0.28],[12.98,0.22],[12.32,0.2],[11.56,0.09],[11.2,0.025],
        [13.45,0.055],[13.65,0.075],[13.85,0.05],[14.05,0.1],[14.25,0.06],[14.45,0.095],[14.65,0.085],[14.85,0.11],[15.05,0.095],[15.25,0.12],
        [15.45,0.1],[15.65,0.135],[15.85,0.16],[16.05,0.17],[16.2,0.22],[16.4,0.25],[16.6,0.3],[16.85,0.33],[17.05,0.3],[17.2,0.45],
        [12.75,0.12],[12.15,0.075],[11.95,0.1],[14.15,0.2],[15.55,0.4],[16.95,0.42],[17.4,0.38],[13.55,0.14],[14.75,0.16],[15.95,0.22],
        [15.12,0.07],[15.22,0.085],[15.35,0.08],[15.48,0.09],[15.62,0.1],[15.72,0.11],[15.82,0.13],[15.92,0.15],[16.02,0.16],[14.72,0.065],
        [14.95,0.07],[15.58,0.085],[16.12,0.18],[16.32,0.2],[15.28,0.065]
    ];

    // lower envelope (binned), black dashed with dots
    var envelopeMag = [11.62, 12.12, 12.62, 13.12, 13.62, 14.12, 14.62, 15.12, 15.62, 16.12, 16.62, 17.12, 17.62];
    var envelopeRms = [0.0185, 0.0157, 0.0157, 0.0159, 0.0178, 0.0217, 0.0293, 0.0401, 0.0614, 0.124, 0.180, 0.217, 0.232];

    // minor tick values of the log axis
    var minorTickValues = [0.02, 0.03, 0.04, 0.05, 0.06, 0.07, 0.08, 0.09, 0.2, 0.3, 0.4, 0.5, 0.6, 0.7, 0.8, 0.9];

    var classData = [eclipsing, gcas, irregular, pulsatingBlue, pulsatingRed, rotational, variable];
    // drawing order, bottom to top
    var drawOrder = [2, 4, 0, 1, 3, 5, 6];

    var serif = 'DejaVu Serif';
    var xMin = 11, xMax = 17.5;
    var yMin = 0.0132, yMax = 2.02;

    var series = [];
    drawOrder.forEach(function (i) {
        series.push({
            name: classNames[i],
            type: 'scatter',
            data: classData[i],
            symbolSize: 3.5,
            itemStyle: {color: classColors[i], opacity: 1},
            emphasis: {disabled: true}
        });
    });
    series.push({
        name: 'envelope',
        type: 'line',
        data: envelopeMag.map(function (m, k) {
            return [m, envelopeRms[k]];
        }),
        symbol: 'circle',
        symbolSize: 9,
        showAllSymbol: true,
        itemStyle: {color: '#000'},
        lineStyle: {color: '#000', width: 2, type: [7, 4]},
        z: 5,
        clip: true
    });
    // matplotlib-like minor ticks at 2..9 x 10^n, on both y sides
    series.push({
        name: 'minor ticks',
        type: 'custom',
        silent: true,
        clip: false,
        z: 10,
        data: minorTickValues.map(function (v) {
            return [xMin, v];
        }),
        renderItem: function (params, api) {
            var cs = params.coordSys;
            var y = api.coord([xMin, api.value(1)])[1];
            var st = {stroke: '#000', lineWidth: 1.2};
            return {
                type: 'group',
                children: [
                    {type: 'line', shape: {x1: cs.x, y1: y, x2: cs.x + 4, y2: y}, style: st},
                    {type: 'line', shape: {x1: cs.x + cs.width - 4, y1: y, x2: cs.x + cs.width, y2: y}, style: st}
                ]
            };
        }
    });

    var tickLabel = {fontFamily: serif, fontSize: 13.5, color: '#000'};
    var frameLine = {onZero: false, lineStyle: {color: '#000', width: 2}};
    var majorTick = {inside: true, length: 7, lineStyle: {color: '#000', width: 1.5}};

    var option = {
        animation: false,
        backgroundColor: '#fff',
        grid: {left: 114, right: 91, top: 63, bottom: 68},
        legend: {
            data: classNames,
            orient: 'vertical',
            left: 647,
            top: 326,
            icon: 'circle',
            itemWidth: 10,
            itemHeight: 6,
            itemGap: 4.7,
            padding: [3, 6, 4, 15],
            backgroundColor: 'rgba(255,255,255,0.85)',
            borderColor: '#d0d0d0',
            borderWidth: 1,
            borderRadius: 4,
            textStyle: {fontFamily: serif, fontSize: 12.5, color: '#000', lineHeight: 14, padding: [0, 0, 0, 12]}
        },
        xAxis: [{
            type: 'value',
            min: xMin,
            max: xMax,
            interval: 1,
            name: 'Mean Magnitude [mag]',
            nameLocation: 'middle',
            nameGap: 36,
            nameTextStyle: {fontFamily: serif, fontSize: 18, color: '#000'},
            axisLine: frameLine,
            axisTick: majorTick,
            axisLabel: Object.assign({margin: 6, showMaxLabel: false}, tickLabel),
            splitLine: {show: false}
        }, {
            type: 'value',
            position: 'top',
            min: xMin,
            max: xMax,
            interval: 1,
            axisLine: frameLine,
            axisTick: majorTick,
            axisLabel: {show: false},
            splitLine: {show: false}
        }],
        yAxis: [{
            type: 'log',
            logBase: 10,
            min: yMin,
            max: yMax,
            name: 'RMS',
            nameLocation: 'middle',
            nameGap: 36,
            nameTextStyle: {fontFamily: serif, fontSize: 18, color: '#000'},
            axisLine: frameLine,
            axisTick: majorTick,
            axisLabel: Object.assign({
                margin: 6,
                showMinLabel: false,
                showMaxLabel: false,
                formatter: function (v) {
                    return v.toFixed(2);
                }
            }, tickLabel),
            splitLine: {show: false}
        }, {
            type: 'log',
            logBase: 10,
            position: 'right',
            min: yMin,
            max: yMax,
            axisLine: frameLine,
            axisTick: majorTick,
            axisLabel: {show: false},
            splitLine: {show: false}
        }],
        series: series
    };

    var myChart = echarts.init(document.getElementById('main'));
    myChart.setOption(option);
</script>
</body>
</html>
